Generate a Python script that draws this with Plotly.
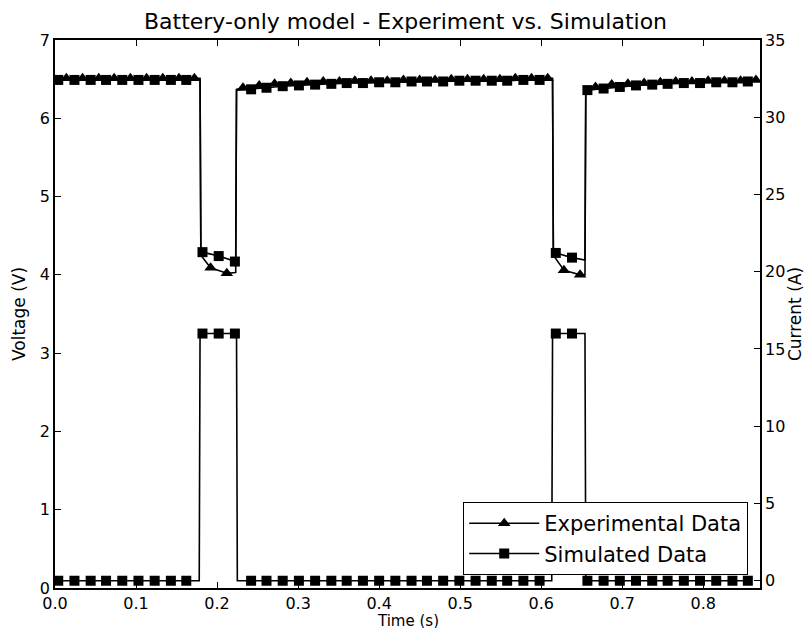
import plotly.graph_objects as go

# ---------------- data ----------------
sim_t = [0.004, 0.024, 0.044, 0.063, 0.083, 0.103, 0.123, 0.143, 0.162, 0.182,
         0.202, 0.222, 0.242, 0.261, 0.281, 0.301, 0.321, 0.341, 0.360, 0.380,
         0.400, 0.420, 0.440, 0.459, 0.479, 0.499, 0.519, 0.539, 0.558, 0.578,
         0.598, 0.618, 0.638, 0.657, 0.677, 0.697, 0.717, 0.737, 0.756, 0.776,
         0.796, 0.816, 0.836, 0.855]
sim_v = [6.49, 6.49, 6.49, 6.49, 6.49, 6.49, 6.49, 6.49, 6.49,
         4.29, 4.24, 4.17,
         6.37, 6.39, 6.41, 6.42, 6.43, 6.44, 6.45, 6.45, 6.46, 6.46,
         6.47, 6.47, 6.47, 6.48, 6.48, 6.48, 6.48, 6.49, 6.49,
         4.28, 4.22,
         6.36, 6.38, 6.40, 6.42, 6.43, 6.44, 6.45, 6.45, 6.46, 6.46, 6.47]
sim_edge_t = [0.179, 0.180, 0.223, 0.224, 0.614, 0.615, 0.654, 0.655]
sim_edge_v = [6.49, 4.30, 4.17, 6.36, 6.49, 4.29, 4.19, 6.36]

cur_a = [0, 0, 0, 0, 0, 0, 0, 0, 0,
         16, 16, 16,
         0, 0, 0, 0, 0, 0, 0, 0, 0, 0, 0, 0, 0, 0, 0, 0, 0, 0, 0,
         16, 16,
         0, 0, 0, 0, 0, 0, 0, 0, 0, 0, 0]
cur_edge_t = [0.178, 0.179, 0.224, 0.225, 0.613, 0.614, 0.654, 0.655]
cur_edge_a = [0, 16, 16, 0, 0, 16, 16, 0]

exp_t = [0.014, 0.034, 0.054, 0.073, 0.093, 0.113, 0.133, 0.153, 0.172, 0.192,
         0.212, 0.232, 0.252, 0.271, 0.291, 0.311, 0.331, 0.351, 0.370, 0.390,
         0.410, 0.430, 0.450, 0.469, 0.489, 0.509, 0.529, 0.549, 0.568, 0.588,
         0.608, 0.628, 0.648, 0.667, 0.687, 0.707, 0.727, 0.747, 0.766, 0.786,
         0.806, 0.826, 0.846, 0.865]
exp_v = [6.51, 6.51, 6.51, 6.51, 6.51, 6.51, 6.51, 6.51, 6.51,
         4.09, 4.02,
         6.39, 6.42, 6.44, 6.45, 6.46, 6.47, 6.47, 6.48, 6.48, 6.48,
         6.49, 6.49, 6.49, 6.50, 6.50, 6.50, 6.50, 6.51, 6.51, 6.51,
         4.06, 4.00,
         6.40, 6.43, 6.44, 6.45, 6.46, 6.47, 6.47, 6.48, 6.48, 6.48, 6.49]
exp_edge_t = [0.179, 0.180, 0.223, 0.224, 0.614, 0.615, 0.654, 0.655]
exp_edge_v = [6.51, 4.25, 4.03, 6.37, 6.51, 4.25, 4.00, 6.38]

x_ticks = [0.0, 0.1, 0.2, 0.3, 0.4, 0.5, 0.6, 0.7, 0.8]
v_ticks = [0, 1, 2, 3, 4, 5, 6, 7]
a_ticks = [0, 5, 10, 15, 20, 25, 30, 35]

TITLE = "Battery-only model - Experiment vs. Simulation"
X_TITLE = "Time (s)"
FONT = "DejaVu Sans"


def merged(t, v, et, ev):
    pts = sorted(list(zip(t, v)) + list(zip(et, ev)), key=lambda p: p[0])
    return [p[0] for p in pts], [p[1] for p in pts]


fig = go.Figure()

LW = 1.6
# line parts (with the sharp step edges)
for (t, v, et, ev, ax) in [(exp_t, exp_v, exp_edge_t, exp_edge_v, "y"),
                           (sim_t, sim_v, sim_edge_t, sim_edge_v, "y"),
                           (sim_t, cur_a, cur_edge_t, cur_edge_a, "y2")]:
    lx, ly = merged(t, v, et, ev)
    fig.add_trace(go.Scatter(x=lx, y=ly, mode="lines", yaxis=ax,
                             line=dict(color="black", width=LW),
                             showlegend=False, hoverinfo="skip"))

# markers
fig.add_trace(go.Scatter(x=exp_t, y=exp_v, mode="markers", yaxis="y",
                         marker=dict(symbol="triangle-up", size=11, color="black"),
                         showlegend=False))
fig.add_trace(go.Scatter(x=sim_t, y=sim_v, mode="markers", yaxis="y",
                         marker=dict(symbol="square", size=10, color="black"),
                         showlegend=False))
fig.add_trace(go.Scatter(x=sim_t, y=cur_a, mode="markers", yaxis="y2",
                         marker=dict(symbol="square", size=10, color="black"),
                         showlegend=False))

# legend entries
fig.add_trace(go.Scatter(x=[None], y=[None], mode="lines+markers", name="Experimental Data",
                         line=dict(color="black", width=LW),
                         marker=dict(symbol="triangle-up", size=11, color="black")))
fig.add_trace(go.Scatter(x=[None], y=[None], mode="lines+markers", name="Simulated Data",
                         line=dict(color="black", width=LW),
                         marker=dict(symbol="square", size=10, color="black")))

axis_common = dict(showgrid=False, zeroline=False, showline=True, linecolor="black",
                   linewidth=1.6, ticks="inside", ticklen=6, tickwidth=1.2,
                   tickcolor="black", tickfont=dict(family=FONT, size=16, color="black"))

fig.update_layout(
    width=811, height=628,
    margin=dict(l=55, r=51, t=40, b=40, autoexpand=False),
    paper_bgcolor="white", plot_bgcolor="white",
    font=dict(family=FONT, color="black"),
    title=dict(text=TITLE, x=0.5, xanchor="center", y=0.966, yanchor="middle",
               font=dict(family=FONT, size=22, color="black")),
    xaxis=dict(range=[0, 0.87], tickvals=x_ticks,
               ticktext=[f"{v:.1f}" for v in x_ticks], mirror="ticks",
               automargin=False, **axis_common),
    yaxis=dict(range=[0, 7], tickvals=v_ticks,
               title=dict(text="Voltage (V)", standoff=10,
                          font=dict(family=FONT, size=17, color="black")),
               automargin=False, **axis_common),
    yaxis2=dict(range=[-0.47, 35], tickvals=a_ticks, overlaying="y", side="right",
                title=dict(text="Current (A)", standoff=2,
                           font=dict(family=FONT, size=17, color="black")),
                automargin=False, **axis_common),
    legend=dict(x=0.983, y=0.024, xanchor="right", yanchor="bottom",
                bgcolor="white", bordercolor="black", borderwidth=1.2,
                font=dict(family=FONT, size=21, color="black"),
                itemwidth=70, tracegroupgap=0),
    showlegend=True,
    annotations=[dict(text=X_TITLE, xref="paper", yref="paper", x=0.5, y=-0.0595,
                      xanchor="center", yanchor="middle", showarrow=False,
                      font=dict(family=FONT, size=15, color="black"))],
)

fig.write_html("out.html")
